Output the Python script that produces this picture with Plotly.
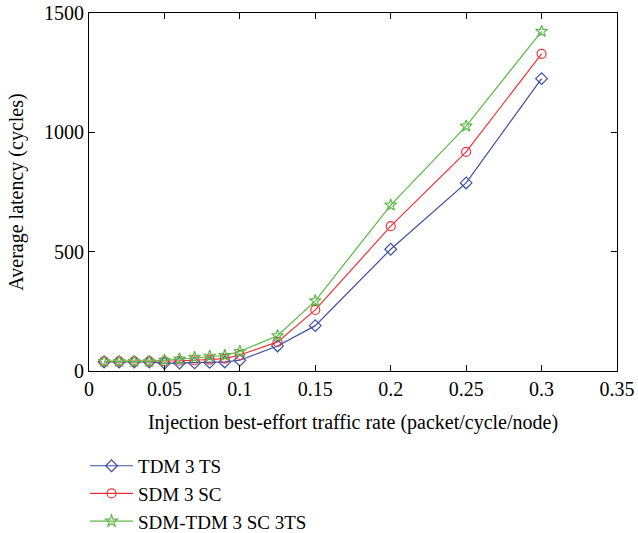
import plotly.graph_objects as go

x = [0.01, 0.02, 0.03, 0.04, 0.05, 0.06, 0.07, 0.08, 0.09, 0.10, 0.125, 0.15, 0.20, 0.25, 0.30]
tdm = [38, 38, 38, 38, 32, 33, 34, 36, 38, 45, 105, 190, 510, 788, 1225]
sdm = [40, 40, 40, 40, 40, 43, 45, 48, 52, 67, 122, 256, 607, 918, 1329]
sdm_tdm = [40, 40, 40, 40, 45, 50, 57, 62, 65, 82, 148, 294, 695, 1026, 1423]
names = ["TDM 3 TS", "SDM 3 SC", "SDM-TDM 3 SC 3TS"]
colors = ["#3d4fa3", "#ec3237", "#5db947"]
symbols = ["diamond-open", "circle-open", "star-open"]
xticks = [0, 0.05, 0.1, 0.15, 0.2, 0.25, 0.3, 0.35]
xticklabels = ["0", "0.05", "0.1", "0.15", "0.2", "0.25", "0.3", "0.35"]
yticks = [0, 500, 1000, 1500]

fig = go.Figure()
for ys, n, c, s in zip([tdm, sdm, sdm_tdm], names, colors, symbols):
    fig.add_trace(go.Scatter(
        x=x, y=ys, name=n, mode="lines+markers",
        line=dict(color=c, width=1.2),
        marker=dict(symbol=s, size=9, color=c, line=dict(color=c, width=1.2)),
    ))

font = "Liberation Serif, Times New Roman, serif"
fs = 20
axcommon = dict(
    showgrid=False, zeroline=False, showline=True, linecolor="black", linewidth=1,
    mirror="allticks", ticks="inside", ticklen=6, tickcolor="black",
    tickfont=dict(family=font, size=fs, color="black"),
)
fig.update_layout(
    width=638, height=533,
    margin=dict(l=89, r=21, t=13, b=162, autoexpand=False),
    paper_bgcolor="white", plot_bgcolor="white",
    font=dict(family=font, size=fs, color="black"),
    xaxis=dict(range=[0, 0.35], tickvals=xticks, ticktext=xticklabels,
               title=dict(text="Injection best-effort traffic rate (packet/cycle/node)",
                          font=dict(family=font, size=fs)), **axcommon),
    yaxis=dict(range=[0, 1500], tickvals=yticks,
               title=dict(text="Average latency (cycles)", font=dict(family=font, size=fs)),
               **axcommon),
    legend=dict(x=-0.0075, y=-0.212, xanchor="left", yanchor="top",
                font=dict(family=font, size=19, color="black"),
                bgcolor="rgba(0,0,0,0)", tracegroupgap=0, itemwidth=43),
)
fig.write_html("out.html")
